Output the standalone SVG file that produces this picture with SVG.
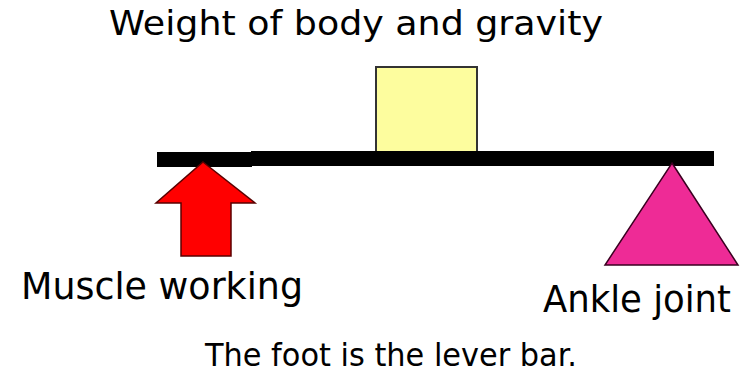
<svg xmlns="http://www.w3.org/2000/svg" width="744" height="375" viewBox="0 0 744 375">
<style>
text{font-family:"DejaVu Sans","Liberation Sans",sans-serif;fill:#000}
.t{font-size:34px}
.c{font-size:32px}
.l{font-size:38px}
</style>
<rect width="744" height="375" fill="#fff"/>
<g id="weight">
<rect x="376" y="67" width="101" height="85" fill="#fdfd9e" stroke="#333" stroke-width="2"/>
<text class="t" x="109" y="35" textLength="494" lengthAdjust="spacingAndGlyphs">Weight of body and gravity</text>
</g>
<g id="lever">
<rect x="157" y="152" width="95" height="15" fill="#000"/>
<rect x="251" y="151" width="463" height="15" fill="#000"/>
</g>
<g id="muscle">
<polygon points="203,162 255,203 231,203 231,256 181,256 181,203 156,203" fill="#f00" stroke="#5a0000" stroke-width="1.5"/>
<text class="l" x="21" y="299" textLength="282" lengthAdjust="spacingAndGlyphs">Muscle working</text>
</g>
<g id="ankle">
<polygon points="672,163 738,265 605,265" fill="#ee2b96" stroke="#3a0020" stroke-width="1.5"/>
<text class="l" x="543" y="312" textLength="188" lengthAdjust="spacingAndGlyphs">Ankle joint</text>
</g>
<g id="caption">
<text class="c" x="205" y="366" textLength="372" lengthAdjust="spacingAndGlyphs">The foot is the lever bar.</text>
</g>
</svg>
